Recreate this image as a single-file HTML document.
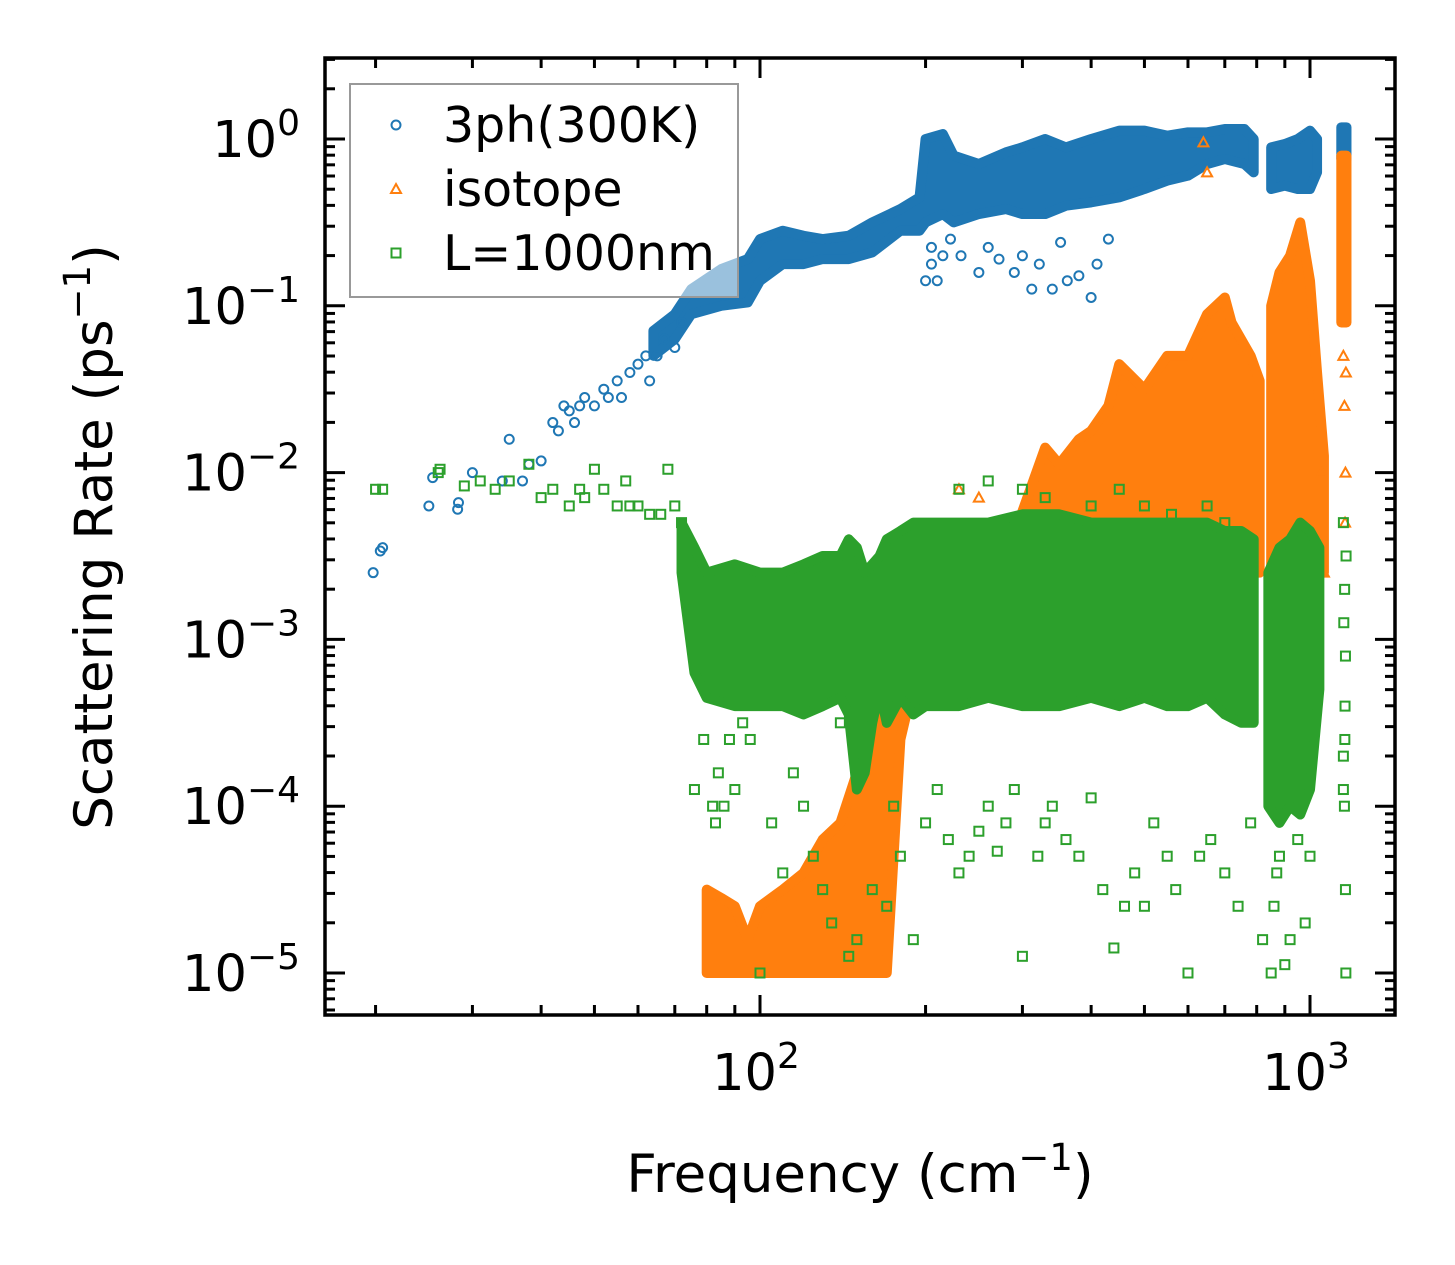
<!DOCTYPE html>
<html><head><meta charset="utf-8"><style>
body{margin:0;background:#fff}
svg{display:block;font-family:"DejaVu Sans","Liberation Sans",sans-serif}
</style></head><body>
<svg id="chart" width="1455" height="1265" viewBox="0 0 1455 1265" xmlns="http://www.w3.org/2000/svg">
<rect width="1455" height="1265" fill="#fff"/>
<defs><clipPath id="clip"><rect x="325" y="58" width="1070" height="957"/></clipPath></defs>
<g id="data" clip-path="url(#clip)"></g>
<g id="axes"></g>
</svg>
<script>
// ---- data (log10 of rate) ----
const blueScatterF=[19.8,20.4,20.6,25,25.4,28.2,28.3,30,34,35,37,38,40,42,43,44,45,46,47,48,50,52,53,55,56,58,60,62,63,65,67,70,72,200,205,210,222,232,250,260,272,290,300,312,322,340,352,362,380,400,410,430,205,215];
const blueScatterV=[-2.6,-2.47,-2.45,-2.2,-2.03,-2.22,-2.18,-2.0,-2.05,-1.8,-2.05,-1.95,-1.93,-1.7,-1.75,-1.6,-1.63,-1.7,-1.6,-1.55,-1.6,-1.5,-1.55,-1.45,-1.55,-1.4,-1.35,-1.3,-1.45,-1.3,-1.2,-1.25,-1.1,-0.85,-0.75,-0.85,-0.6,-0.7,-0.8,-0.65,-0.72,-0.8,-0.7,-0.9,-0.75,-0.9,-0.62,-0.85,-0.82,-0.95,-0.75,-0.6,-0.65,-0.7];
const blueBandF=[64,70,75,85,95,100,110,120,130,145,160,180,195,200,215,225,250,280,300,330,360,400,450,500,550,600,650,700,760,790];
const blueBandLo=[-1.3,-1.2,-1.05,-1.0,-0.98,-0.85,-0.75,-0.75,-0.72,-0.72,-0.68,-0.55,-0.55,-0.5,-0.45,-0.5,-0.45,-0.42,-0.45,-0.45,-0.4,-0.38,-0.35,-0.3,-0.25,-0.22,-0.15,-0.12,-0.15,-0.2];
const blueBandHi=[-1.15,-1.05,-0.9,-0.78,-0.72,-0.6,-0.55,-0.58,-0.6,-0.58,-0.5,-0.42,-0.35,0.0,0.03,-0.1,-0.15,-0.08,-0.05,0.0,-0.05,0.0,0.05,0.05,0.02,0.04,0.04,0.06,0.06,0.0];
const blueBand2F=[850,900,950,1000,1030];
const blueBand2Lo=[-0.3,-0.28,-0.3,-0.3,-0.2];
const blueBand2Hi=[-0.05,-0.03,0.0,0.05,0.0];
const blueBand3F=[1140,1165];
const blueBand3Lo=[-0.12,-0.12];
const blueBand3Hi=[0.07,0.07];

const orangeBandF=[80,85,90,95,100,110,120,130,140,150,160,165,170,180,186];
const orangeBandLo=[-5.0,-5.0,-5.0,-5.0,-5.0,-5.0,-5.0,-5.0,-5.0,-5.0,-5.0,-5.0,-5.0,-3.6,-3.4];
const orangeBandHi=[-4.5,-4.55,-4.6,-4.8,-4.6,-4.5,-4.4,-4.2,-4.1,-3.8,-3.4,-3.0,-3.2,-3.0,-3.1];
const orangeBandBF=[295,330,350,380,400,430,450,500,550,600,650,700,720,780,810];
const orangeBandBLo=[-2.6,-2.6,-2.6,-2.6,-2.6,-2.6,-2.6,-2.6,-2.6,-2.6,-2.6,-2.6,-2.6,-2.6,-2.6];
const orangeBandBHi=[-2.3,-1.85,-1.95,-1.8,-1.75,-1.6,-1.35,-1.5,-1.3,-1.3,-1.05,-0.95,-1.1,-1.3,-1.45];
const orangeBand2F=[850,880,920,960,1000,1030,1060];
const orangeBand2Lo=[-2.6,-2.6,-2.6,-2.6,-2.6,-2.6,-2.6];
const orangeBand2Hi=[-1.0,-0.8,-0.7,-0.5,-0.85,-1.4,-1.9];
const orangeBand3F=[1140,1165];
const orangeBand3Lo=[-1.1,-1.1];
const orangeBand3Hi=[-0.1,-0.1];
const orangeScatterF=[640,650,1150,1155,1160,1158,1162,230,250,1050,1060];
const orangeScatterV=[-0.02,-0.2,-1.3,-1.6,-2.0,-2.3,-1.4,-2.1,-2.15,-2.0,-2.6];

const greenScatterF=[20,20.6,26,26.2,29,31,33,35,38,40,42,45,47,48,50,52,55,57,58,60,63,66,68,70,72,76,79,82,83,84,86,88,90,93,96,100,105,110,115,120,125,130,135,140,145,150,160,170,175,180,190,200,210,220,230,240,250,260,270,280,290,300,320,330,340,360,380,400,420,440,460,480,500,520,550,570,600,630,660,700,740,780,820,850,860,870,880,900,920,950,980,1000,1150,1155,1160,1162,1158,1150,1156,1152,1160,1157,1163,1150,230,260,300,330,400,450,500,560,650,700];
const greenScatterV=[-2.1,-2.1,-2.0,-1.98,-2.08,-2.05,-2.1,-2.05,-1.95,-2.15,-2.1,-2.2,-2.1,-2.15,-1.98,-2.1,-2.2,-2.05,-2.2,-2.2,-2.25,-2.25,-1.98,-2.2,-2.3,-3.9,-3.6,-4.0,-4.1,-3.8,-4.0,-3.6,-3.9,-3.5,-3.6,-5.0,-4.1,-4.4,-3.8,-4.0,-4.3,-4.5,-4.7,-3.5,-4.9,-4.8,-4.5,-4.6,-4.0,-4.3,-4.8,-4.1,-3.9,-4.2,-4.4,-4.3,-4.15,-4.0,-4.27,-4.1,-3.9,-4.9,-4.3,-4.1,-4.0,-4.2,-4.3,-3.95,-4.5,-4.85,-4.6,-4.4,-4.6,-4.1,-4.3,-4.5,-5.0,-4.3,-4.2,-4.4,-4.6,-4.1,-4.8,-5.0,-4.6,-4.4,-4.3,-4.95,-4.8,-4.2,-4.7,-4.3,-3.7,-4.0,-4.5,-5.0,-3.4,-2.3,-2.7,-2.9,-3.1,-3.6,-2.5,-3.9,-2.1,-2.05,-2.1,-2.15,-2.2,-2.1,-2.2,-2.25,-2.2,-2.3];
const greenBandF=[72,76,80,90,100,110,120,130,140,145,150,155,160,165,170,180,190,200,230,260,300,350,400,450,500,550,600,650,700,750,790];
const greenBandLo=[-2.6,-3.2,-3.35,-3.4,-3.4,-3.4,-3.45,-3.4,-3.35,-3.45,-3.9,-3.8,-3.5,-3.3,-3.5,-3.35,-3.45,-3.4,-3.4,-3.35,-3.4,-3.4,-3.35,-3.4,-3.35,-3.4,-3.4,-3.35,-3.45,-3.5,-3.5];
const greenBandHi=[-2.3,-2.45,-2.6,-2.55,-2.6,-2.6,-2.55,-2.5,-2.5,-2.4,-2.45,-2.6,-2.55,-2.5,-2.4,-2.35,-2.3,-2.3,-2.3,-2.3,-2.25,-2.25,-2.3,-2.3,-2.3,-2.3,-2.3,-2.3,-2.35,-2.35,-2.4];
const greenBand2F=[840,880,920,960,1000,1040];
const greenBand2Lo=[-4.0,-4.1,-4.0,-4.05,-3.9,-3.3];
const greenBand2Hi=[-2.6,-2.45,-2.4,-2.3,-2.35,-2.45];
const xTickVals=[2,3];
const yTickVals=[0,-1,-2,-3,-4,-5];

// ---- axes ----
const X0=325,X1=1395,Y0=58,Y1=1015;
const xPx=f=>760+(Math.log10(f)-2)*550;
const yPx=v=>139-v*166.8;
const NS='http://www.w3.org/2000/svg';
const dataG=document.getElementById('data'), axG=document.getElementById('axes');
function mk(tag,attrs,parent){const e=document.createElementNS(NS,tag);for(const k in attrs)e.setAttribute(k,attrs[k]);parent.appendChild(e);return e;}

const C={blue:'#1f77b4',orange:'#ff7f0e',green:'#2ca02c'};
function band(F,Lo,Hi,color,name){
  let pts=[];
  for(let i=0;i<F.length;i++)pts.push(xPx(F[i])+','+yPx(Hi[i]));
  for(let i=F.length-1;i>=0;i--)pts.push(xPx(F[i])+','+yPx(Lo[i]));
  const p=mk('polygon',{points:pts.join(' '),fill:color,stroke:color,'stroke-width':10,'stroke-linejoin':'round'},dataG);
  
  
}
function marker(kind,cx,cy,color,parent){
  let e;
  if(kind==='o')e=mk('circle',{cx,cy,r:4.5,fill:'none',stroke:color,'stroke-width':2},parent);
  else if(kind==='^')e=mk('polygon',{points:`${cx},${cy-5} ${cx+5},${cy+4} ${cx-5},${cy+4}`,fill:'none',stroke:color,'stroke-width':2},parent);
  else e=mk('rect',{x:cx-4.5,y:cy-4.5,width:9,height:9,fill:'none',stroke:color,'stroke-width':2},parent);
  return e;
}
function scatter(F,V,kind,color,name){
  for(let i=0;i<F.length;i++){
    const e=marker(kind,xPx(F[i]),yPx(V[i]),color,dataG);
    
    
  }
}
band(blueBandF,blueBandLo,blueBandHi,C.blue,'3ph-band');
band(blueBand2F,blueBand2Lo,blueBand2Hi,C.blue,'3ph-band-high');
band(blueBand3F,blueBand3Lo,blueBand3Hi,C.blue,'3ph-band-top');
scatter(blueScatterF,blueScatterV,'o',C.blue,'3ph-point');
band(orangeBandF,orangeBandLo,orangeBandHi,C.orange,'isotope-band-low');
band(orangeBandBF,orangeBandBLo,orangeBandBHi,C.orange,'isotope-band');
band(orangeBand2F,orangeBand2Lo,orangeBand2Hi,C.orange,'isotope-band-high');
band(orangeBand3F,orangeBand3Lo,orangeBand3Hi,C.orange,'isotope-band-top');
scatter(orangeScatterF,orangeScatterV,'^',C.orange,'isotope-point');
band(greenBandF,greenBandLo,greenBandHi,C.green,'boundary-band');
band(greenBand2F,greenBand2Lo,greenBand2Hi,C.green,'boundary-band-high');
scatter(greenScatterF,greenScatterV,'s',C.green,'boundary-point');

// ticks
for(let d=1;d<=3;d++)for(let m=1;m<=9;m++){
  const f=m*Math.pow(10,d);const x=xPx(f);if(x<X0||x>X1)continue;
  const L=m===1?20:10;
  const t1=mk('line',{x1:x,x2:x,y1:Y1,y2:Y1-L,stroke:'#000','stroke-width':3},axG);
  
  
  const t2=mk('line',{x1:x,x2:x,y1:Y0,y2:Y0+L,stroke:'#000','stroke-width':3},axG);
  
  
}
for(let d=-6;d<=0;d++)for(let m=1;m<=9;m++){
  const v=d+Math.log10(m);const y=yPx(v);if(y<Y0||y>Y1)continue;
  const L=m===1?20:10;
  const t1=mk('line',{x1:X0,x2:X0+L,y1:y,y2:y,stroke:'#000','stroke-width':3},axG);
  
  
  const t2=mk('line',{x1:X1,x2:X1-L,y1:y,y2:y,stroke:'#000','stroke-width':3},axG);
  
  
}
const frame=mk('rect',{x:X0,y:Y0,width:X1-X0,height:Y1-Y0,fill:'none',stroke:'#000','stroke-width':3.5},axG);


xTickVals.forEach(p=>{
  const t=mk('text',{x:xPx(Math.pow(10,p))-4,y:1090,'font-size':51,'text-anchor':'middle'},axG);
  
  
  t.innerHTML='10<tspan dy="-22" font-size="36">'+p+'</tspan>';
});
yTickVals.forEach(p=>{
  const t=mk('text',{x:300,y:yPx(p)+18,'font-size':51,'text-anchor':'end'},axG);
  
  
  const s=p===0?'0':'\u2212'+(-p);
  t.innerHTML='10<tspan dy="-22" font-size="36">'+s+'</tspan>';
});
const xl=mk('text',{x:860,y:1192,'font-size':53,'text-anchor':'middle'},axG);


xl.innerHTML='Frequency (cm<tspan dy="-22" font-size="37">\u22121</tspan><tspan dy="22">)</tspan>';
const yl=mk('text',{x:0,y:0,'font-size':53,'text-anchor':'middle',transform:'translate(112,537) rotate(-90)'},axG);


yl.innerHTML='Scattering Rate (ps<tspan dy="-22" font-size="37">\u22121</tspan><tspan dy="22">)</tspan>';

// legend
const lg=mk('g',{},axG);


mk('rect',{x:350,y:84,width:388,height:213,fill:'#fff','fill-opacity':0.55,stroke:'#999','stroke-width':2},lg);
const entries=[['o',C.blue,'3ph(300K)',125],['^',C.orange,'isotope',189],['s',C.green,'L=1000nm',253]];
entries.forEach(e=>{
  const g=mk('g',{},lg);
  
  
  marker(e[0],396,e[3],e[1],g);
  const t=mk('text',{x:443,y:e[3]+17,'font-size':49},g);
  t.textContent=e[2];
});
</script>
</body></html>
